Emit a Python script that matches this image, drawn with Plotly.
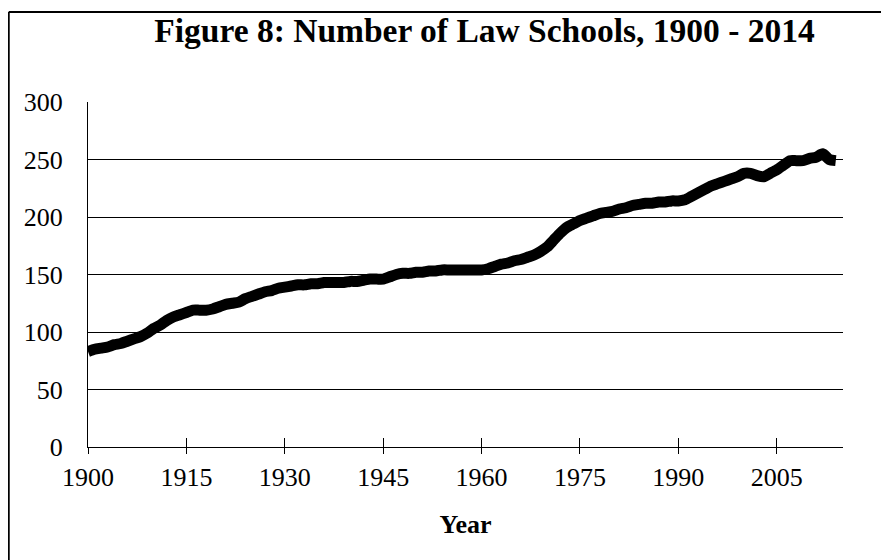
import plotly.graph_objects as go

# 연도
years = list(range(1900, 2015))

# 로스쿨 수
schools = [
    83, 85, 86, 87, 89, 90, 92, 94, 96, 99,          # 1900-1909
    103, 106, 110, 113, 115, 117, 119, 119, 119, 120,  # 1910-1919
    122, 124, 125, 126, 129, 131, 133, 135, 136, 138,  # 1920-1929
    139, 140, 141, 141, 142, 142, 143, 143, 143, 143,  # 1930-1939
    144, 144, 145, 146, 146, 146, 148, 150, 151, 151,  # 1940-1949
    152, 152, 153, 153, 154, 154, 154, 154, 154, 154,  # 1950-1959
    154, 155, 157, 159, 160, 162, 163, 165, 167, 170,  # 1960-1969
    174, 180, 186, 191, 194, 197, 199, 201, 203, 204,  # 1970-1979
    205, 207, 208, 210, 211, 212, 212, 213, 213, 214,  # 1980-1989
    214, 215, 218, 221, 224, 227, 229, 231, 233, 235,  # 1990-1999
    238, 238, 236, 235, 238, 241, 245, 249, 249, 249,  # 2000-2009
    251, 252, 255, 250, 249,                           # 2010-2014
]

x_ticks = [1900, 1915, 1930, 1945, 1960, 1975, 1990, 2005]
y_ticks = [0, 50, 100, 150, 200, 250, 300]

SERIF = "Liberation Serif, Times New Roman, serif"

fig = go.Figure()
fig.add_trace(go.Scatter(x=years, y=schools, mode="lines",
                         line=dict(color="black", width=11, shape="spline", smoothing=0.6),
                         showlegend=False))
# 축 위쪽 눈금용 보조 축
fig.add_trace(go.Scatter(x=[years[0]], y=[schools[0]], xaxis="x2", mode="none",
                         showlegend=False, hoverinfo="skip"))

fig.update_layout(
    width=889, height=560,
    margin=dict(l=80, r=54, t=94, b=121),
    paper_bgcolor="white", plot_bgcolor="white",
    font=dict(family=SERIF, color="black"),
    title=dict(text="<b>Figure 8: Number of Law Schools, 1900 - 2014</b>",
               x=0.536, xanchor="center", y=0.96, yanchor="middle",
               font=dict(size=33.5, family=SERIF, color="black")),
    xaxis=dict(range=[1900, 2015.1], tickvals=x_ticks, ticks="outside", ticklen=6,
               tickcolor="black", tickwidth=1, showline=True, linecolor="black",
               linewidth=1, showgrid=False, zeroline=False,
               tickfont=dict(size=26, family=SERIF), ticklabelstandoff=1,
               title=dict(text="<b>Year</b>", font=dict(size=26, family=SERIF), standoff=23)),
    xaxis2=dict(range=[1900, 2015.1], overlaying="x", side="bottom", tickvals=x_ticks,
                ticks="inside", ticklen=9, tickcolor="black", tickwidth=1,
                showticklabels=False, showgrid=False, zeroline=False, showline=False),
    yaxis=dict(range=[0, 300], tickvals=y_ticks, showgrid=True, gridcolor="black",
               gridwidth=1, showline=True, linecolor="black", linewidth=1,
               zeroline=False, ticks="", tickfont=dict(size=26, family=SERIF),
               ticklabelstandoff=19),
)

# 바깥 테두리 (왼쪽, 위쪽)
fig.add_shape(type="line", xref="paper", yref="paper", x0=-0.105, x1=-0.105,
              y0=1.261, y1=-0.36, line=dict(color="black", width=2))
fig.add_shape(type="line", xref="paper", yref="paper", x0=-0.105, x1=1.1,
              y0=1.261, y1=1.261, line=dict(color="black", width=2))

fig.write_html("out.html")
